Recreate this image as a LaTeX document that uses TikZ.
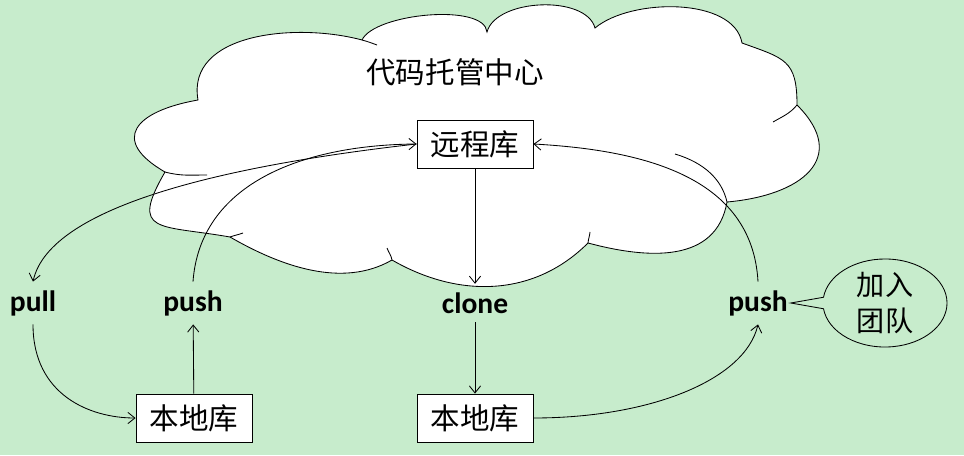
\documentclass[tikz,border=0pt]{standalone}
\usepackage{fontspec}
\setmainfont{Carlito}
\newfontfamily\cjk{Noto Sans CJK SC}
\usetikzlibrary{shapes.callouts,arrows.meta}
\definecolor{bggreen}{RGB}{199,236,204}
\tikzset{
  repo/.style = {draw, fill=white, line width=0.6pt,
                 minimum width=2.9cm, minimum height=1.2cm,
                 inner sep=0pt, font=\cjk\fontsize{21}{25}\selectfont},
  cmd/.style  = {font=\bfseries\fontsize{21}{25}\selectfont,
                 inner xsep=2pt, inner ysep=6pt},
  link/.style = {-{Straight Barb[length=5pt,width=8pt]}, line width=0.6pt}
}

\begin{document}
\begin{tikzpicture}[x=0.025cm, y=0.025cm]
	\fill[bggreen] (0,0) rectangle (964,455);
	\useasboundingbox (0,0) rectangle (964,455);

	% Cloud
	\filldraw[fill=white, line width=0.6pt]
	  (198,355) to[out=100,in=165] (362,415)
	  to[out=65,in=95,looseness=0.6] (487,423)
	  to[out=75,in=105,looseness=0.82] (595,427)
	  to[out=40,in=100,looseness=0.81] (742,412)
	  to[out=-20,in=90,looseness=1.4] (797,350)
	  to[out=-45,in=5,looseness=1.6] (727,253)
	  to[out=-100,in=-15,looseness=1.1] (588,212)
	  to[out=-135,in=-30,looseness=1.0] (392,195)
	  to[out=-150,in=-30,looseness=0.9] (230,218)
	  to[out=170,in=-120,looseness=2] (165,283)
	  to[out=150,in=190,looseness=2.07] (198,355) -- cycle;
	% inner puff lines
	\draw[line width=0.6pt] (165,283) to[out=-15,in=180] (207,280);
	\draw[line width=0.6pt] (230,218) to[out=20,in=200] (243,222);
	\draw[line width=0.6pt] (392,195) to[out=100,in=-70] (387,207);
	\draw[line width=0.6pt] (588,212) to[out=85,in=-95] (590,223);
	\draw[line width=0.6pt] (727,253) .. controls (722,275) and (705,292) .. (675,301);
	\draw[line width=0.6pt] (797,350) to[out=-130,in=30] (773,333);
	\draw[line width=0.6pt] (362,415) to[out=-15,in=160] (377,410);

	\node[font=\cjk\fontsize{21}{25}\selectfont] (title) at (455,383) {代码托管中心};

	% Repos
	\node[repo] (remote) at (475,311) {远程库};
	\node[repo] (localL) at (194,37) {本地库};
	\node[repo] (localR) at (475,37) {本地库};

	% Commands
	\node[cmd] (pull)  at (33,152)  {pull};
	\node[cmd] (pushL) at (193,152) {push};
	\node[cmd] (clone) at (475,152) {clone};
	\node[cmd] (pushR) at (758,152) {push};

	% Team
	\node[ellipse callout, draw, line width=0.6pt, minimum width=3.1cm, minimum height=2.2cm,
	      callout absolute pointer={(pushR.east)}, align=center, inner sep=0pt,
	      font=\cjk\fontsize{20}{26}\selectfont] (team) at (885,152) {加入\\团队};

	% Links
	\draw[link] (remote) -- (clone);
	\draw[link] (clone) -- (localR);
	\draw[link] (localL) -- (pushL);
	\draw[link] (remote.west) .. controls (230,290) and (50,250) .. (pull.north);
	\draw[link] (pushL.north) .. controls (200,270) and (300,310) .. (remote.west);
	\draw[link] (pushR.north) .. controls (752,280) and (640,305) .. (remote.east);
	\draw[link] (pull.south) .. controls (33,60) and (90,37) .. (localL.west);
	\draw[link] (localR.east) .. controls (650,37) and (745,75) .. (pushR.south);
\end{tikzpicture}
\end{document}
